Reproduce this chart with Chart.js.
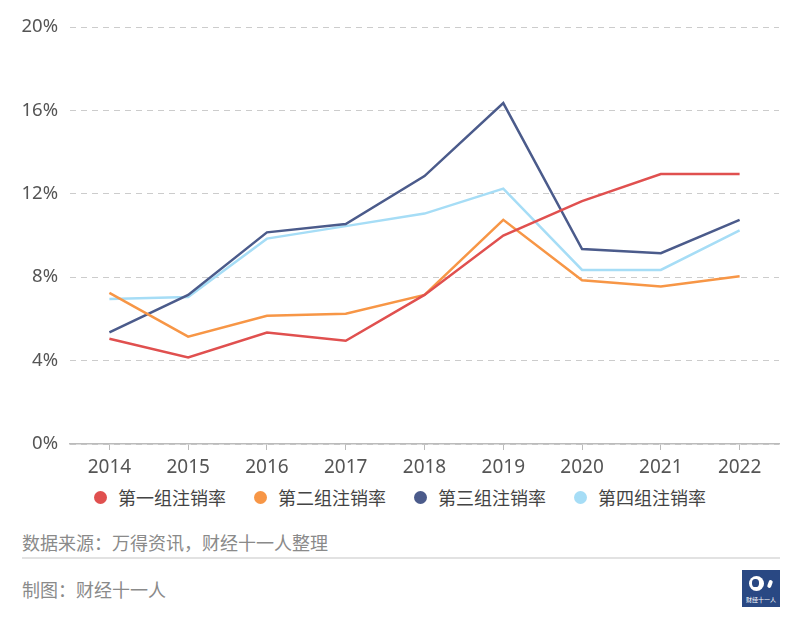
<!DOCTYPE html>
<html><head><meta charset="utf-8">
<script src="https://cdn.jsdelivr.net/npm/chart.js@4"></script>
<style>
html,body{margin:0;padding:0;background:#fff;width:800px;height:627px;overflow:hidden;font-family:"Noto Sans","Noto Sans CJK SC",sans-serif;}
#wrap{position:absolute;left:0;top:0;width:800px;height:481px;}
#legend{position:absolute;left:0;top:484px;width:800px;height:26px;display:flex;justify-content:center;align-items:center;}
#legend .it{display:flex;align-items:center;margin:0 14px;font-size:18px;color:#444;font-family:"Noto Sans CJK SC",sans-serif;}
#legend .dot{width:13px;height:13px;border-radius:50%;margin-right:11px;}
.foot{position:absolute;left:22px;color:#8a8a8a;font-size:18px;font-family:"Noto Sans CJK SC",sans-serif;line-height:24px;}
#rule{position:absolute;left:22px;top:557px;width:758px;height:2px;background:#e2e2e2;}
#logo{position:absolute;left:742px;top:570px;width:38px;height:37px;background:#294883;color:#fff;font-size:6px;line-height:7px;text-align:center;font-family:"Noto Sans CJK SC",sans-serif;}
#logo .g{position:absolute;left:7px;top:6px;width:15px;height:15px;border-radius:50%;background:#fff;}
#logo .g2{position:absolute;left:10px;top:9px;width:7px;height:8px;border-radius:45%;background:#294883;}
#logo .r{position:absolute;left:26px;top:10px;width:4px;height:8px;background:#fff;transform:rotate(20deg);border-radius:2px;}
#logo .t{position:absolute;left:0;top:26px;width:38px;}
</style></head><body>
<div id="wrap"><canvas id="c" width="800" height="481"></canvas></div>
<div id="legend"></div>
<div class="foot" style="top:530px;">数据来源：万得资讯，财经十一人整理</div>
<div id="rule"></div>
<div class="foot" style="top:577px;">制图：财经十一人</div>
<div id="logo"><div class="g"></div><div class="g2"></div><div class="r"></div><div class="t">财经十一人</div></div>
<script>
const years = ["2014","2015","2016","2017","2018","2019","2020","2021","2022"];
const group1 = [5.05, 4.15, 5.35, 4.95, 7.15, 10.0, 11.65, 12.95, 12.95];
const group2 = [7.25, 5.15, 6.15, 6.25, 7.15, 10.75, 7.85, 7.55, 8.05];
const group3 = [5.35, 7.15, 10.15, 10.55, 12.85, 16.35, 9.35, 9.15, 10.75];
const group4 = [6.95, 7.05, 9.85, 10.45, 11.05, 12.25, 8.35, 8.35, 10.25];
const seriesNames = ["第一组注销率","第二组注销率","第三组注销率","第四组注销率"];
const colors = ["#e0504f","#f79646","#4b5b8b","#a6ddf6"];
const yTicks = [0,4,8,12,16,20];

const htmlLegend = {
  id: 'htmlLegend',
  afterUpdate(chart) {
    const box = document.getElementById('legend');
    box.innerHTML = '';
    const items = chart.options.plugins.legend.labels.generateLabels(chart);
    items.forEach(item => {
      const it = document.createElement('div'); it.className = 'it';
      const dot = document.createElement('span'); dot.className = 'dot';
      dot.style.background = item.fillStyle;
      const tx = document.createElement('span'); tx.textContent = item.text;
      it.appendChild(dot); it.appendChild(tx); box.appendChild(it);
    });
  }
};

const data = [group1, group2, group3, group4];
new Chart(document.getElementById('c'), {
  type: 'line',
  data: {
    labels: years,
    datasets: data.map((d,i)=>({
      label: seriesNames[i], data: d, borderColor: colors[i], backgroundColor: colors[i],
      borderWidth: 2.5, pointRadius: 0, tension: 0, fill: false
    }))
  },
  plugins: [htmlLegend],
  options: {
    responsive: false, animation: false,
    layout: {padding: {left: 0, right: 21, top: 27, bottom: 0}},
    plugins: {
      tooltip: {enabled: false},
      legend: {display: false}
    },
    scales: {
      x: {
        offset: true,
        grid: {display: true, drawOnChartArea: false, drawTicks: true, tickLength: 6, color: '#bbbbbb'},
        border: {display: true, color: '#bbbbbb', width: 1.5},
        ticks: {color: '#555', padding: 6, font: {size: 19, family: '"Noto Sans", sans-serif'}},
        afterFit: s => { s.height = 37; }
      },
      y: {
        min: 0, max: 20,
        afterBuildTicks: s => { s.ticks = yTicks.map(v=>({value:v})); },
        grid: {color: '#cccccc', lineWidth: 1, drawTicks: false},
        border: {display: false, dash: [6,5]},
        ticks: {color: '#555', padding: 12, font: {size: 18.5, family: '"Noto Sans", sans-serif'}, callback: v => v + '%'},
        afterFit: s => { s.width = 70; }
      }
    }
  }
});
</script>
</body></html>
